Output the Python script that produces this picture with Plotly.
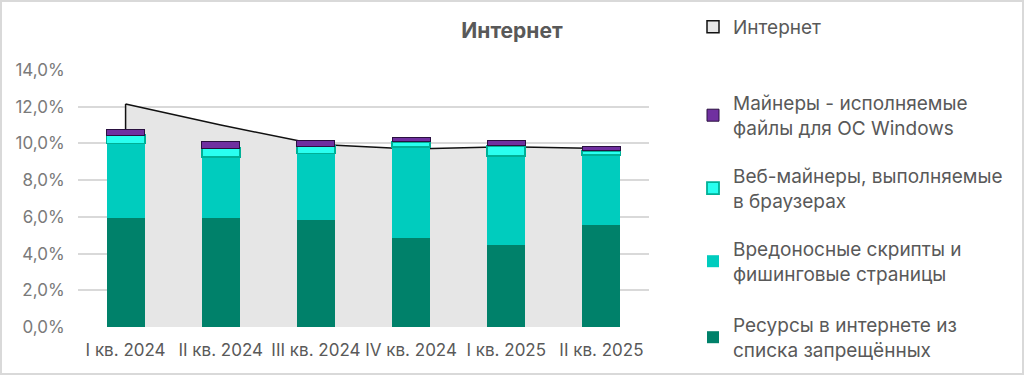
import plotly.graph_objects as go

categories = ["I кв. 2024", "II кв. 2024", "III кв. 2024", "IV кв. 2024", "I кв. 2025", "II кв. 2025"]
internet = [12.15, 11.0, 9.95, 9.7, 9.82, 9.73]
blocked = [5.95, 5.95, 5.85, 4.87, 4.44, 5.56]
scripts = [4.05, 3.32, 3.60, 4.95, 4.87, 3.80]
web_miners = [0.45, 0.46, 0.40, 0.27, 0.56, 0.24]
win_miners = [0.31, 0.36, 0.30, 0.24, 0.28, 0.22]

names = {
    "internet": "Интернет",
    "win": "Майнеры - исполняемые<br>файлы для ОС Windows",
    "web": "Веб-майнеры, выполняемые<br>в браузерах",
    "scripts": "Вредоносные скрипты и<br>фишинговые страницы",
    "blocked": "Ресурсы в интернете из<br>списка запрещённых",
}

FONT = "Inter"
GREY = "#595959"
W, H = 1024, 375
L, R, T, B = 78, 375, 70, 48
pw, ph = W - L - R, H - T - B

def px_x(x):
    return (x - L) / pw

def px_y(y):
    return (H - B - y) / ph

fig = go.Figure()

# area (behind bars)
fig.add_trace(go.Scatter(x=categories, y=internet, mode="lines", fill="tozeroy",
                         fillcolor="#e6e6e6", line=dict(color="#111111", width=1.5),
                         showlegend=False, hoverinfo="skip", xaxis="x", yaxis="y"))
fig.add_trace(go.Scatter(x=[categories[0], categories[0]], y=[0, internet[0]], mode="lines",
                         line=dict(color="#111111", width=1.5), showlegend=False,
                         hoverinfo="skip", xaxis="x", yaxis="y"))
# legend-only entry for area
fig.add_trace(go.Bar(x=[categories[0]], y=[None], name=names["internet"],
                     marker=dict(color="#e6e6e6", line=dict(color="#111111", width=1.5)),
                     legend="legend", xaxis="x", yaxis="y2"))

fig.add_trace(go.Bar(x=categories, y=blocked, name=names["blocked"],
                     marker=dict(color="#00816a", line=dict(width=0)),
                     legend="legend5", xaxis="x", yaxis="y2"))
fig.add_trace(go.Bar(x=categories, y=scripts, name=names["scripts"],
                     marker=dict(color="#00ccbe", line=dict(width=0)),
                     legend="legend4", xaxis="x", yaxis="y2"))
fig.add_trace(go.Bar(x=categories, y=web_miners, name=names["web"],
                     marker=dict(color="#29fff0", line=dict(color="#00b096", width=1.8)),
                     legend="legend3", xaxis="x", yaxis="y2"))
fig.add_trace(go.Bar(x=categories, y=win_miners, name=names["win"],
                     marker=dict(color="#7030a0", line=dict(color="#2a1040", width=1)),
                     legend="legend2", xaxis="x", yaxis="y2"))

leg_common = dict(font=dict(family=FONT, size=19, color=GREY), bgcolor="rgba(0,0,0,0)",
                  xanchor="left", yanchor="top", itemwidth=30, tracegroupgap=0)
leg_x = px_x(693)

fig.update_layout(
    width=W, height=H,
    margin=dict(l=L, r=R, t=T, b=B, autoexpand=False),
    paper_bgcolor="white", plot_bgcolor="white",
    separators=", ",
    barmode="stack", bargap=0.6,
    title=dict(text="<b>Интернет</b>", x=512 / W, xanchor="center", xref="container",
               y=1 - 31 / H, yanchor="middle", yref="container",
               font=dict(family=FONT, size=21, color=GREY)),
    xaxis=dict(type="category", showgrid=False, showline=False, zeroline=False,
               tickfont=dict(family=FONT, size=17, color=GREY),
               ticks="outside", ticklen=8, tickcolor="rgba(0,0,0,0)"),
    yaxis=dict(range=[0, 14], dtick=2, tickformat=".1f", ticksuffix="%",
               showgrid=True, gridcolor="#d9d9d9", gridwidth=1.5, zeroline=False,
               showline=False, tickfont=dict(family=FONT, size=17, color="#7a7a7a"),
               ticks="outside", ticklen=9, tickcolor="rgba(0,0,0,0)"),
    yaxis2=dict(range=[0, 14], overlaying="y", showgrid=False, showticklabels=False,
                zeroline=False, showline=False),
    legend=dict(x=leg_x, y=px_y(8), **leg_common),
    legend2=dict(x=leg_x, y=px_y(84), **leg_common),
    legend3=dict(x=leg_x, y=px_y(157), **leg_common),
    legend4=dict(x=leg_x, y=px_y(230), **leg_common),
    legend5=dict(x=leg_x, y=px_y(306), **leg_common),
    shapes=[dict(type="rect", xref="paper", yref="paper",
                 x0=px_x(1), x1=px_x(1023), y0=px_y(374), y1=px_y(1),
                 line=dict(color="#d9d9d9", width=2), fillcolor="rgba(0,0,0,0)", layer="below")],
)

fig.write_html("out.html", config={"displayModeBar": False},
               post_script="document.body.style.margin='0';document.body.style.overflow='hidden';")
